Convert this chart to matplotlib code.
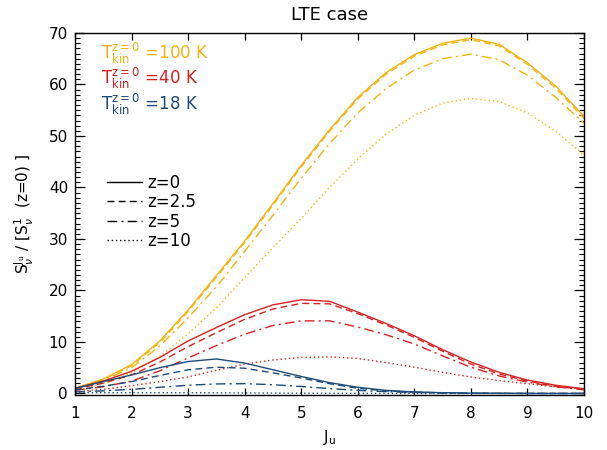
import matplotlib
matplotlib.use("Agg")
import matplotlib.pyplot as plt
from matplotlib.lines import Line2D
from matplotlib.ticker import MultipleLocator

plt.rcParams['font.family'] = ['DejaVu Sans']
plt.rcParams['mathtext.fontset'] = 'dejavusans'

# ---------------- data ----------------
J = [1, 1.5, 2, 2.5, 3, 3.5, 4, 4.5, 5, 5.5, 6, 6.5, 7, 7.5, 8, 8.5, 9, 9.5, 10]

# T_kin(z=0) = 100 K
y100_z0 = [1.0, 2.8, 5.6, 10.2, 16.2, 22.9, 29.6, 36.9, 44.3, 51.2, 57.5, 62.3, 65.8, 68.0, 69.0, 67.8, 64.2, 59.7, 53.8]
y100_z25 = [1.0, 2.7, 5.4, 9.9, 15.9, 22.6, 29.3, 36.6, 44.0, 50.9, 57.2, 62.0, 65.5, 67.7, 68.7, 67.5, 63.9, 59.3, 53.4]
y100_z5 = [0.9, 2.5, 5.0, 9.2, 14.7, 20.7, 27.6, 34.6, 41.8, 48.5, 54.5, 59.2, 62.8, 65.0, 65.9, 64.8, 61.8, 57.5, 52.5]
y100_z10 = [0.6, 1.9, 4.0, 7.2, 11.6, 16.6, 22.5, 28.3, 34.0, 40.0, 45.5, 50.4, 54.0, 56.4, 57.3, 56.7, 54.5, 50.9, 46.3]

# T_kin(z=0) = 40 K
y40_z0 = [1.0, 2.4, 4.3, 7.0, 10.2, 12.8, 15.3, 17.2, 18.2, 17.9, 15.8, 13.6, 11.2, 8.5, 6.1, 4.1, 2.6, 1.6, 0.9]
y40_z25 = [0.9, 2.0, 3.6, 6.1, 9.1, 11.8, 14.4, 16.4, 17.5, 17.4, 15.5, 13.3, 10.9, 8.2, 5.7, 3.8, 2.4, 1.4, 0.8]
y40_z5 = [0.6, 1.3, 2.4, 4.4, 6.9, 9.3, 11.5, 13.2, 14.1, 14.1, 12.9, 11.4, 9.6, 7.3, 5.1, 3.4, 2.2, 1.3, 0.7]
y40_z10 = [0.3, 0.8, 1.5, 2.3, 3.2, 4.5, 5.7, 6.5, 7.0, 7.1, 6.8, 6.0, 5.1, 4.1, 3.2, 2.5, 1.9, 1.3, 0.9]

# T_kin(z=0) = 18 K
y18_z0 = [1.0, 2.3, 3.6, 5.0, 6.2, 6.7, 5.9, 4.6, 3.3, 2.1, 1.2, 0.6, 0.3, 0.15, 0.07, 0.03, 0.01, 0.0, 0.0]
y18_z25 = [0.7, 1.4, 2.3, 3.5, 4.6, 5.1, 4.9, 4.0, 3.0, 1.9, 1.0, 0.5, 0.25, 0.12, 0.05, 0.02, 0.01, 0.0, 0.0]
y18_z5 = [0.3, 0.5, 0.8, 1.2, 1.6, 1.85, 1.9, 1.7, 1.35, 0.95, 0.6, 0.35, 0.18, 0.08, 0.03, 0.01, 0.0, 0.0, 0.0]
y18_z10 = [0.15, 0.15, 0.15, 0.15, 0.15, 0.12, 0.1, 0.08, 0.05, 0.03, 0.02, 0.01, 0.0, 0.0, 0.0, 0.0, 0.0, 0.0, 0.0]

temps = ["100", "40", "18"]
z_labels = ["z=0", "z=2.5", "z=5", "z=10"]
series = {
    "100": [y100_z0, y100_z25, y100_z5, y100_z10],
    "40": [y40_z0, y40_z25, y40_z5, y40_z10],
    "18": [y18_z0, y18_z25, y18_z5, y18_z10],
}
xticks = [1, 2, 3, 4, 5, 6, 7, 8, 9, 10]
yticks = [0, 10, 20, 30, 40, 50, 60, 70]

# ---------------- style ----------------
colors = {"100": "#F2B40F", "40": "#D52222", "18": "#1D4B78"}
styles = ["-", (0, (5, 3)), (0, (7, 3, 1.5, 3)), (0, (1, 2))]

fig = plt.figure(figsize=(6.07, 4.5), dpi=100)
ax = fig.add_axes([75 / 607, 55 / 450, 509 / 607, 362 / 450])

for t in temps:
    for ys, ls in zip(series[t], styles):
        ax.plot(J, ys, color=colors[t], linestyle=ls, linewidth=1.0)

ax.set_xlim(1, 10)
ax.set_ylim(-0.3, 70)
ax.set_xticks(xticks)
ax.set_yticks(yticks)
ax.yaxis.set_minor_locator(MultipleLocator(1))
ax.tick_params(axis='x', which='major', direction='in', length=5, width=0.9,
               top=True, bottom=True, labelsize=11, pad=8)
ax.tick_params(axis='y', which='major', direction='in', length=7.2, width=0.9,
               left=True, right=True, labelsize=11, pad=5)
ax.tick_params(axis='y', which='minor', direction='in', length=3.6, width=0.8,
               left=True, right=True)
for s in ax.spines.values():
    s.set_linewidth(1.0)

ax.set_title("LTE case", fontsize=13, pad=9)
ax.set_xlabel(r"J$_\mathregular{u}$", fontsize=11, labelpad=5)
ax.set_ylabel(r"S$^{\mathregular{J_u}}_{\nu}$ / [S$^{1}_{\nu}$  (z=0) ]", fontsize=11, labelpad=9)

# temperature labels
for i, t in enumerate(temps):
    ax.text(0.052, 0.944 - i * 0.0705,
            r"T$^{\mathregular{z=0}}_{\mathregular{kin}}$ =" + t + " K",
            color=colors[t], fontsize=12, transform=ax.transAxes,
            ha='left', va='center')

handles = [Line2D([], [], color='black', linestyle=ls, linewidth=1.0) for ls in styles]
ax.legend(handles, z_labels, loc='upper left', bbox_to_anchor=(0.04, 0.643),
          frameon=False, fontsize=12, handlelength=2.1, handletextpad=0.3,
          labelspacing=0.08, borderpad=0.2)

fig.savefig("out.png", dpi=100)
